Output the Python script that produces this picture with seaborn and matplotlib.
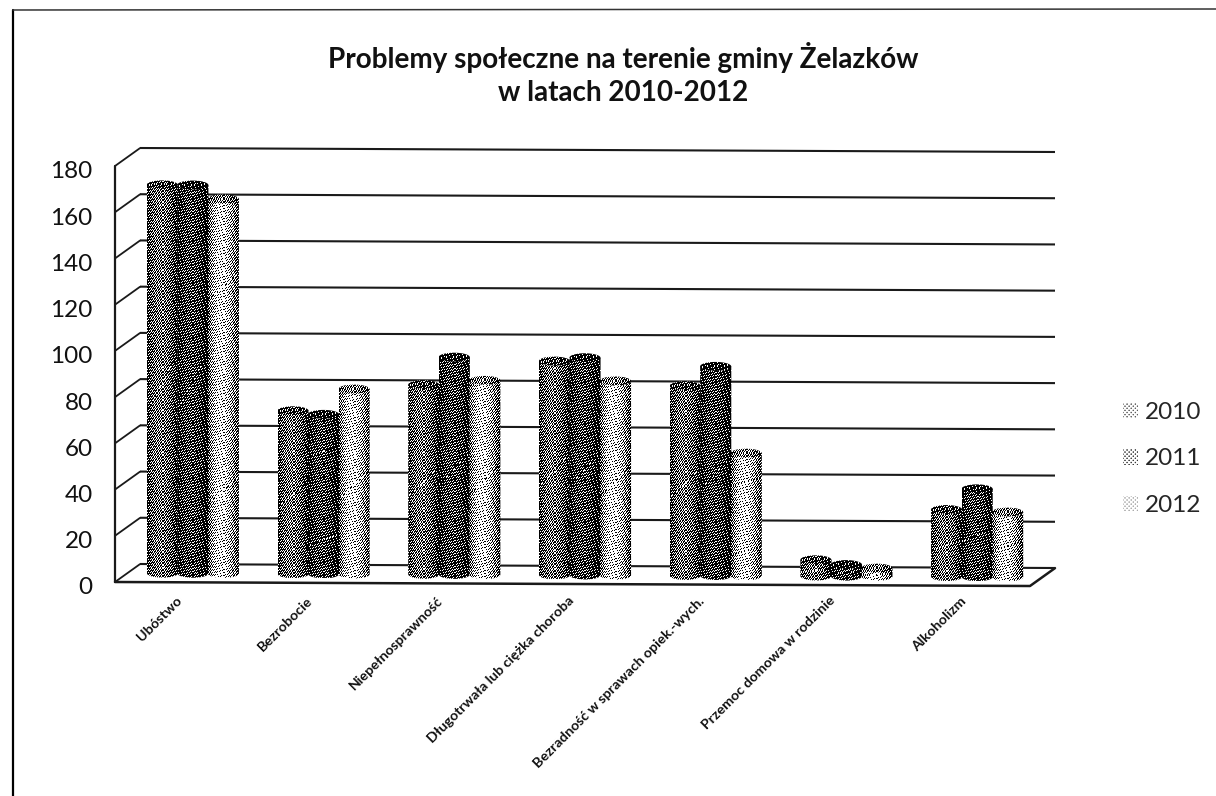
import numpy as np
import pandas as pd
import matplotlib
matplotlib.use("Agg")
import matplotlib.pyplot as plt
import matplotlib.transforms as mtrans
from matplotlib.path import Path
from matplotlib.patches import PathPatch
import seaborn as sns

categories = ["Ubóstwo", "Bezrobocie", "Niepełnosprawność", "Długotrwała lub ciężka choroba",
              "Bezradność w sprawach opiek.-wych.", "Przemoc domowa w rodzinie", "Alkoholizm"]
years = ["2010", "2011", "2012"]
values_2010 = [168, 70.5, 82, 92.5, 82, 7, 29]
values_2011 = [168, 69, 94, 94, 90.5, 5, 38]
values_2012 = [162, 80, 84, 84, 53, 3.5, 28]
y_ticks = list(range(0, 181, 20))
title = "Problemy społeczne na terenie gminy Żelazków\nw latach 2010-2012"

W, H = 1216, 796
LEFT, RIGHT, Y0, Y180 = 115, 1030, 582, 166   # przednia plaszczyzna w pikselach
DEPTH_X, DEPTH_Y = 25, 18                     # glebokosc sciany 3D
SKEW = 4 / 915                                # lekki skos skanu
levels = {"2010": 0.42, "2011": 0.26, "2012": 0.74}

sns.set_theme(style="white")
plt.rcParams["font.family"] = ["Lato", "DejaVu Sans"]

df = pd.DataFrame({
    "kategoria": categories * 3,
    "rok": np.repeat(years, len(categories)),
    "liczba": values_2010 + values_2011 + values_2012,
})

fig = plt.figure(figsize=(W / 100, H / 100), dpi=100)
ax = fig.add_axes([LEFT / W, 1 - Y0 / H, (RIGHT - LEFT) / W, (Y0 - Y180) / H])
ax.patch.set_alpha(0)

sns.barplot(df, x="kategoria", y="liczba", hue="rok", ax=ax, width=0.7, gap=0,
            palette=[str(levels[y]) for y in years], saturation=1, errorbar=None,
            zorder=3, linewidth=0)

xlim, ylim = (-0.5, 6.5), (0, 180)
ax.set_xlim(xlim)
ax.set_ylim(ylim)


def shifted(dx, dy):
    # przesuniecie w glab wykresu + skos skanu, w pikselach
    return (ax.transData + mtrans.Affine2D().translate(-LEFT, 0).skew(0, np.arctan(-SKEW))
            .translate(LEFT, 0).translate(dx, dy))


front = shifted(0, 0)
back = shifted(DEPTH_X, DEPTH_Y)
line_kw = dict(color="#1a1a1a", clip_on=False, zorder=1)

# linie siatki na tylnej scianie i skosy przy osi
ax.hlines(y_ticks, xlim[0], xlim[1], transform=back, lw=1.5, **line_kw)
dx_data = DEPTH_X / ((RIGHT - LEFT) / 7)
dy_data = DEPTH_Y / ((Y0 - Y180) / 180)
for v in y_ticks:
    ax.plot([xlim[0], xlim[0] + dx_data], [v, v + dy_data], transform=front, lw=1.3, **line_kw)
# os pionowa i podloga
ax.plot([xlim[0], xlim[0]], ylim, transform=front, lw=1.6, **line_kw)
ax.plot([xlim[0], xlim[1], xlim[1] + dx_data], [0, 0, dy_data], transform=front, lw=1.8, **line_kw)


def dither(nx, ny, level, cap=False):
    # rastrowanie jak na skanie: prog z deterministycznego wzoru
    u = (np.arange(nx) + 0.5) / nx
    shade = 0.35 + 0.95 * np.sin(np.pi * u) ** 0.8
    shade = shade * (1.05 - 0.45 * u)
    gray = np.clip(level * shade, 0, 1)
    if cap:
        gray = gray * 0.62
    yy, xx = np.mgrid[0:ny, 0:nx]
    thr = (52.9829189 * ((0.06711056 * xx + 0.00583715 * yy) % 1)) % 1
    return (gray[None, :] > thr).astype(float)


mid = shifted(DEPTH_X / 2, DEPTH_Y / 2)
cap_h = 4.5 / ((Y0 - Y180) / 180)
t = np.linspace(0, np.pi, 40)

for year, bars in zip(years, ax.containers):
    for bar in bars:
        x0, w, h = bar.get_x(), bar.get_width(), bar.get_height()
        cx = x0 + w / 2
        rx = w / 2 * 1.02
        bar.set_transform(mid)
        bar.set_visible(False)
        # korpus walca
        bx = cx - rx * np.cos(t)
        by = -cap_h * np.sin(t)
        body = np.column_stack([np.r_[bx, bx[-1], bx[0]], np.r_[by, h, h]])
        clip = PathPatch(Path(np.vstack([body, body[0]])), transform=mid, fc="none", ec="none")
        ax.add_patch(clip)
        ny = max(int((h + cap_h) * (Y0 - Y180) / 180), 2)
        nx = max(int(2 * rx * (RIGHT - LEFT) / 7), 2)
        im = ax.imshow(dither(nx, ny, levels[year]), extent=(cx - rx, cx + rx, -cap_h, h), origin="lower",
                       aspect="auto", cmap="gray", vmin=0, vmax=1, interpolation="nearest",
                       transform=mid, zorder=3)
        im.set_clip_path(clip)
        # gorna pokrywa
        tt = np.linspace(0, 2 * np.pi, 60)
        lid = np.column_stack([cx + rx * np.cos(tt), h + cap_h * np.sin(tt)])
        clip2 = PathPatch(Path(lid), transform=mid, fc="none", ec="none")
        ax.add_patch(clip2)
        ny2 = max(int(2 * cap_h * (Y0 - Y180) / 180), 2)
        im2 = ax.imshow(dither(nx, ny2, levels[year], cap=True), extent=(cx - rx, cx + rx, h - cap_h, h + cap_h),
                        origin="lower", aspect="auto", cmap="gray", vmin=0, vmax=1,
                        interpolation="nearest", transform=mid, zorder=4)
        im2.set_clip_path(clip2)

ax.set_xlim(xlim)
ax.set_ylim(ylim)

# osie
sns.despine(ax=ax, left=True, bottom=True)
ax.set_xlabel("")
ax.set_ylabel("")
ax.set_yticks(y_ticks)
ax.tick_params(axis="y", length=0, pad=16, labelsize=17.5, labelcolor="#111111")
ax.set_xticks(range(len(categories)))
ax.set_xticklabels(categories, rotation=45, ha="right", rotation_mode="anchor",
                   fontsize=10.2, fontweight="bold", color="#111111")
ax.tick_params(axis="x", length=0, pad=9)
for label in ax.get_yticklabels():
    label.set_transform(label.get_transform() + mtrans.Affine2D().translate(0, -4))
for label in ax.get_xticklabels():
    label.set_transform(label.get_transform() + mtrans.Affine2D().translate(-5, 0))

# legenda
sns.move_legend(ax, loc="center left", bbox_to_anchor=(1123 / W, 1 - 459 / H),
                bbox_transform=fig.transFigure, title=None, frameon=False, fontsize=17.5,
                handlelength=0.62, handleheight=0.62, handletextpad=0.3, labelspacing=1.05,
                borderpad=0, borderaxespad=0)
for handle, year in zip(ax.get_legend().get_patches(), years):
    handle.set_facecolor(str(levels[year] * 0.9))
    handle.set_edgecolor("white")
    handle.set_linewidth(0)
    handle.set_hatch("xxxxxxxx")

fig.text(623 / W, 1 - 74 / H, title, ha="center", va="center", fontsize=20.1, fontweight="bold",
         color="#111111", linespacing=1.32)

# krawedzie skanu
fig.add_artist(plt.Line2D([13 / W, 13 / W], [0, 1 - 10 / H], color="black", lw=1.6))
fig.add_artist(plt.Line2D([13 / W, 1], [1 - 10 / H, 1 - 9 / H], color="#333333", lw=1.1))

fig.savefig("out.png", dpi=100)
